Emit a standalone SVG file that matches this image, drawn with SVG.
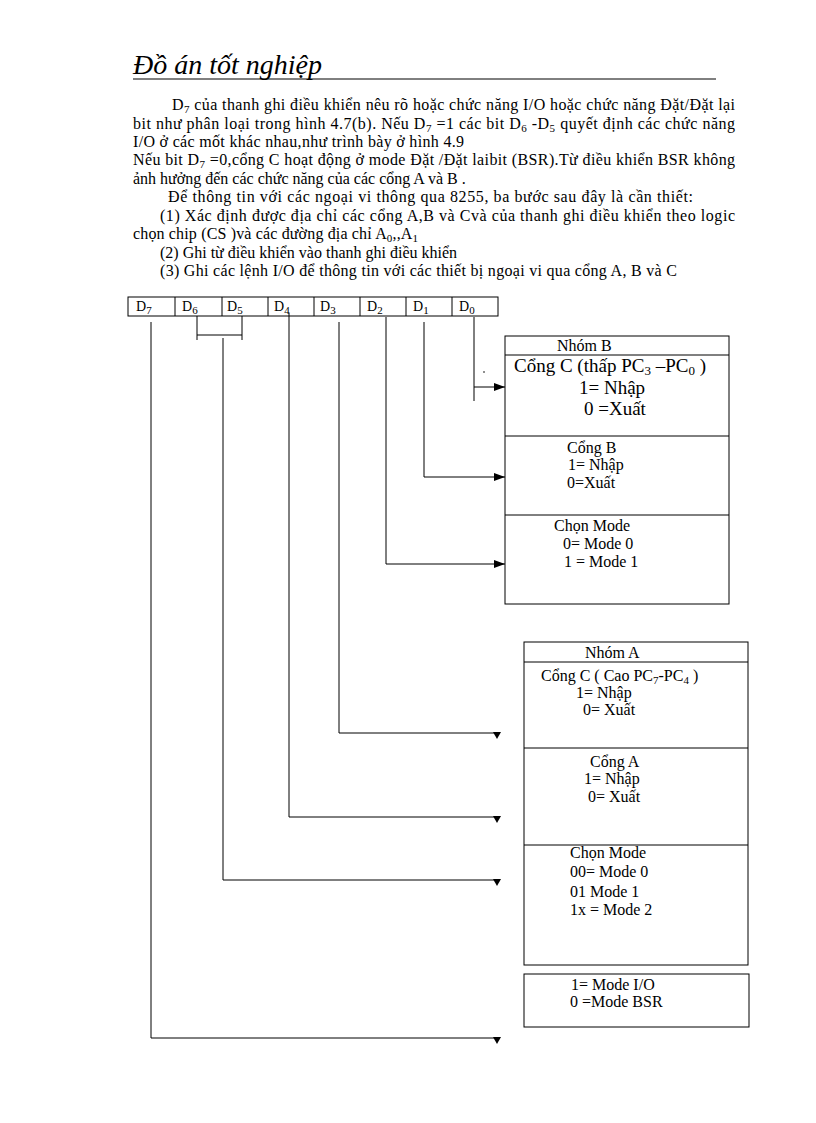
<svg xmlns="http://www.w3.org/2000/svg" width="816" height="1123" viewBox="0 0 816 1123">
<style>
text{font-family:"Liberation Serif","Times New Roman",serif;fill:#000;}
.p{font-size:16px;}
.t{font-size:16px;}
.big{font-size:19px;}
.reg{font-size:14px;}
.box{fill:none;stroke:#000;stroke-width:1;}
.ln{fill:none;stroke:#000;stroke-width:1;}
.sub{font-size:11px;}
</style>
<defs>
<marker id="arrR" markerUnits="userSpaceOnUse" markerWidth="12" markerHeight="10" refX="11" refY="4" orient="auto" overflow="visible">
<path d="M0,0 L11,4 L0,8 z" fill="#000"/>
</marker>
<marker id="arrD" markerUnits="userSpaceOnUse" markerWidth="10" markerHeight="8" refX="0" refY="0" orient="0" overflow="visible">
<path d="M-4,-1 L4,-1 L0,6 z" fill="#000"/>
</marker>
</defs>
<rect width="816" height="1123" fill="#fff"/>

<g id="header">
<text x="133" y="74" style="font-size:28px;font-style:italic">Đồ án tốt nghiệp</text>
<line x1="133" y1="79" x2="716" y2="79" class="ln"/>
</g>

<g id="paragraph" class="p">
<text class="p" x="172" y="110" textLength="563" lengthAdjust="spacing">D<tspan class="sub" dy="3">7</tspan><tspan dy="-3"> của thanh ghi điều khiển nêu rõ hoặc chức năng I/O hoặc chức năng Đặt/Đặt lại</tspan></text>
<text class="p" x="133" y="128.5" textLength="602" lengthAdjust="spacing">bit như phân loại trong hình 4.7(b). Nếu D<tspan class="sub" dy="3">7</tspan><tspan dy="-3"> =1 các bit D</tspan><tspan class="sub" dy="3">6</tspan><tspan dy="-3"> -D</tspan><tspan class="sub" dy="3">5</tspan><tspan dy="-3"> quyết định các chức năng</tspan></text>
<text class="p" x="133" y="147" textLength="331" lengthAdjust="spacing">I/O ở các mốt khác nhau,như trình bày ở hình 4.9</text>
<text class="p" x="133" y="165" textLength="602" lengthAdjust="spacing">Nếu bit D<tspan class="sub" dy="3">7</tspan><tspan dy="-3"> =0,cổng C hoạt động ở mode Đặt /Đặt laibit (BSR).Từ điều khiển BSR không</tspan></text>
<text class="p" x="133" y="183.5">ảnh hưởng đến các chức năng của các cổng A và B .</text>
<text class="p" x="168" y="202" textLength="525" lengthAdjust="spacing">Để thông tin với các ngoại vi thông qua 8255, ba bước sau đây là cần thiết:</text>
<text class="p" x="160" y="220.5" textLength="575" lengthAdjust="spacing">(1) Xác định được địa chỉ các cổng A,B và Cvà của thanh ghi điều khiển theo logic</text>
<text class="p" x="133" y="239" textLength="285" lengthAdjust="spacing">chọn chip (CS )và các đường địa chỉ A<tspan class="sub" dy="3">0</tspan><tspan dy="-3">,,A</tspan><tspan class="sub" dy="3">1</tspan></text>
<text class="p" x="160" y="257.5">(2) Ghi từ điều khiển vào thanh ghi điều khiển</text>
<text class="p" x="160" y="276" textLength="517" lengthAdjust="spacing">(3) Ghi các lệnh I/O để thông tin với các thiết bị ngoại vi qua cổng A, B và C</text>
</g>

<g id="register">
<rect x="128" y="297" width="370" height="19" class="box"/>
<path class="ln" d="M175,297V316M222,297V316M268,297V316M314,297V316M360,297V316M406,297V316M452,297V316"/>
<text class="reg" x="136" y="311">D<tspan class="sub" dy="3">7</tspan></text>
<text class="reg" x="182" y="311">D<tspan class="sub" dy="3">6</tspan></text>
<text class="reg" x="227" y="311">D<tspan class="sub" dy="3">5</tspan></text>
<text class="reg" x="274" y="311">D<tspan class="sub" dy="3">4</tspan></text>
<text class="reg" x="320" y="311">D<tspan class="sub" dy="3">3</tspan></text>
<text class="reg" x="367" y="311">D<tspan class="sub" dy="3">2</tspan></text>
<text class="reg" x="413" y="311">D<tspan class="sub" dy="3">1</tspan></text>
<text class="reg" x="459" y="311">D<tspan class="sub" dy="3">0</tspan></text>
</g>

<g id="connectors">
<path class="ln" d="M151,322V1038H497" marker-end="url(#arrD)"/>
<path class="ln" d="M197,316V340M242,316V340M197,335H242"/>
<path class="ln" d="M223,338V880H497" marker-end="url(#arrD)"/>
<path class="ln" d="M289,313V817H497" marker-end="url(#arrD)"/>
<path class="ln" d="M339,322V733H497" marker-end="url(#arrD)"/>
<path class="ln" d="M386,317V564H505" marker-end="url(#arrR)"/>
<path class="ln" d="M424,322V477H505" marker-end="url(#arrR)"/>
<path class="ln" d="M474,317V401"/>
<path class="ln" d="M474,387H505" marker-end="url(#arrR)"/>
<circle cx="484" cy="372" r="0.8" fill="#000"/>
</g>

<g id="nhomB">
<rect x="505" y="336" width="224" height="268" class="box"/>
<path class="ln" d="M505,355H729M505,436H729M505,515H729"/>
<text class="t" x="557" y="351">Nhóm B</text>
<text class="big" x="514" y="372">Cổng C (thấp PC<tspan font-size="13" dy="3">3</tspan><tspan dy="-3"> –PC</tspan><tspan font-size="13" dy="3">0</tspan><tspan dy="-3"> )</tspan></text>
<text class="big" x="579" y="394">1= Nhập</text>
<text class="big" x="584" y="415">0 =Xuất</text>
<text class="t" x="567" y="453">Cổng  B</text>
<text class="t" x="568" y="470">1= Nhập</text>
<text class="t" x="567" y="488">0=Xuất</text>
<text class="t" x="554" y="531">Chọn Mode</text>
<text class="t" x="563" y="549">0= Mode 0</text>
<text class="t" x="564" y="567">1 = Mode 1</text>
</g>

<g id="nhomA">
<rect x="524" y="642" width="224" height="323" class="box"/>
<path class="ln" d="M524,662H748M524,748H748M524,845H748"/>
<text class="t" x="585" y="658">Nhóm A</text>
<text class="t" x="541" y="681">Cổng C ( Cao PC<tspan class="sub" dy="3">7</tspan><tspan dy="-3">-PC</tspan><tspan class="sub" dy="3">4</tspan><tspan dy="-3"> )</tspan></text>
<text class="t" x="576" y="698">1= Nhập</text>
<text class="t" x="583" y="715">0= Xuất</text>
<text class="t" x="590" y="767">Cổng A</text>
<text class="t" x="584" y="784">1= Nhập</text>
<text class="t" x="588" y="802">0= Xuất</text>
<text class="t" x="570" y="858">Chọn Mode</text>
<text class="t" x="570" y="877">00= Mode 0</text>
<text class="t" x="570" y="897">01 Mode  1</text>
<text class="t" x="570" y="915">1x = Mode 2</text>
</g>

<g id="modeBox">
<rect x="524" y="974" width="225" height="53" class="box"/>
<text class="t" x="571" y="990">1= Mode I/O</text>
<text class="t" x="570" y="1007">0 =Mode BSR</text>
</g>
</svg>
